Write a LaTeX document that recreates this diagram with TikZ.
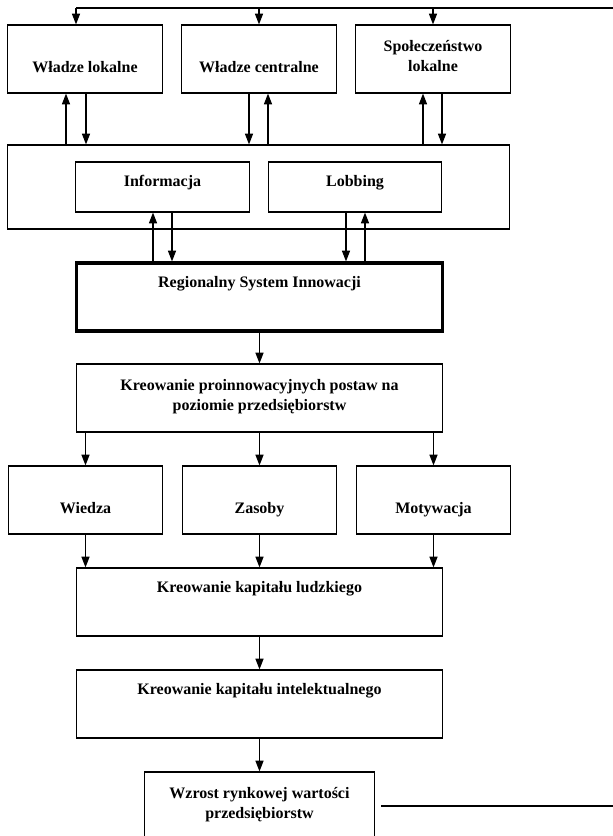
\documentclass[tikz,border=0pt]{standalone}
\usepackage{fontspec}
\setmainfont{Liberation Serif}
\usetikzlibrary{positioning}
\usetikzlibrary{calc}
\usetikzlibrary{arrows.meta}

\begin{document}
\begin{tikzpicture}[x=0.75pt, y=-0.75pt, node distance = 130.5pt, auto]
% tikz settings
\tikzstyle{block} = [rectangle, draw, line width=0.9pt, align=center,
    font=\fontsize{12}{15.5}\selectfont\bfseries, execute at begin node=\strut, execute at end node=\strut,
    minimum width=116pt, minimum height=51pt, inner sep=2pt]
\tikzstyle{lowblock} = [block, text height=21pt, text depth=0.5pt]
\tikzstyle{wide} = [block, minimum width=275pt]
\tikzstyle{topwide} = [wide, text height=8pt, text depth=22.5pt]
\tikzstyle{subblock} = [block, minimum width=130pt, minimum height=37.5pt, text height=6pt, text depth=6.5pt]
\tikzstyle{panel} = [draw, line width=0.9pt, minimum width=376pt, minimum height=63pt]
\tikzstyle{rsiblock} = [topwide, line width=2.4pt]
\tikzstyle{line} = [draw, line width=0.9pt, -{Triangle[length=8pt, width=6pt]}]

\useasboundingbox (0,0) rectangle (613,836);
\clip (0,0) rectangle (613,836);

% the tikz picture
\node [lowblock] (wladzelok) at (85,59) {Władze lokalne};
\node [lowblock, right of=wladzelok] (wladzecen) {Władze centralne};
\node [block, right of=wladzecen] (spolecz) {Społeczeństwo\\lokalne};

\node [panel] (panel) at (258.5,187) {};
\node [subblock] (informacja) at (162.5,187) {Informacja};
\node [subblock] (lobbing) at (355,187) {Lobbing};

\node [rsiblock] (rsi) at (259.5,297) {Regionalny System Innowacji};
\node [wide, below of=rsi, node distance=75.75pt] (postawy) {Kreowanie proinnowacyjnych postaw na\\poziomie przedsiębiorstw};
\node [lowblock, below of=postawy, node distance=76.5pt] (zasoby) {Zasoby};
\node [lowblock, left of=zasoby] (wiedza) {Wiedza};
\node [lowblock, right of=zasoby] (motywacja) {Motywacja};
\node [topwide, below of=zasoby, node distance=76.5pt] (ludzki) {Kreowanie kapitału ludzkiego};
\node [topwide, below of=ludzki, node distance=76.5pt] (intelekt) {Kreowanie kapitału intelektualnego};
\node [block, minimum width=173pt, below of=intelekt, node distance=76.5pt] (wzrost) {Wzrost rynkowej wartości\\przedsiębiorstw};

% feedback line at the top
\coordinate (toploop) at (76,8);
\coordinate (loopend) at (640,8);
\draw[line width=0.9pt] (loopend) -- (toploop);
\draw[line] (toploop) -- (wladzelok.north -| toploop);
\draw[line] (wladzecen.north |- toploop) -- (wladzecen.north);
\draw[line] (spolecz.north |- toploop) -- (spolecz.north);

% top boxes and panel
\draw[line] (panel.north -| 66,0) -- (wladzelok.south -| 66,0);
\draw[line] (wladzelok.south -| 86,0) -- (panel.north -| 86,0);
\draw[line] (wladzecen.south -| 249,0) -- (panel.north -| 249,0);
\draw[line] (panel.north -| 268,0) -- (wladzecen.south -| 268,0);
\draw[line] (panel.north -| 423,0) -- (spolecz.south -| 423,0);
\draw[line] (spolecz.south -| 442,0) -- (panel.north -| 442,0);

% informacja, lobbing and rsi
\draw[line] (rsi.north -| 153,0) -- (informacja.south -| 153,0);
\draw[line] (informacja.south -| 172,0) -- (rsi.north -| 172,0);
\draw[line] (lobbing.south -| 346,0) -- (rsi.north -| 346,0);
\draw[line] (rsi.north -| 365,0) -- (lobbing.south -| 365,0);

% the chain down
\draw[line] (rsi) -- (postawy);
\draw[line] (postawy.south -| wiedza) -- (wiedza);
\draw[line] (postawy) -- (zasoby);
\draw[line] (postawy.south -| motywacja) -- (motywacja);
\draw[line] (wiedza) -- (ludzki.north -| wiedza);
\draw[line] (zasoby) -- (ludzki);
\draw[line] (motywacja) -- (ludzki.north -| motywacja);
\draw[line] (ludzki) -- (intelekt);
\draw[line] (intelekt) -- (wzrost);

% line back to the top
\coordinate (loopstart) at (640,806);
\draw[line width=0.9pt] ([xshift=4.5pt]wzrost.east) -- (loopstart);
\end{tikzpicture}
\end{document}
